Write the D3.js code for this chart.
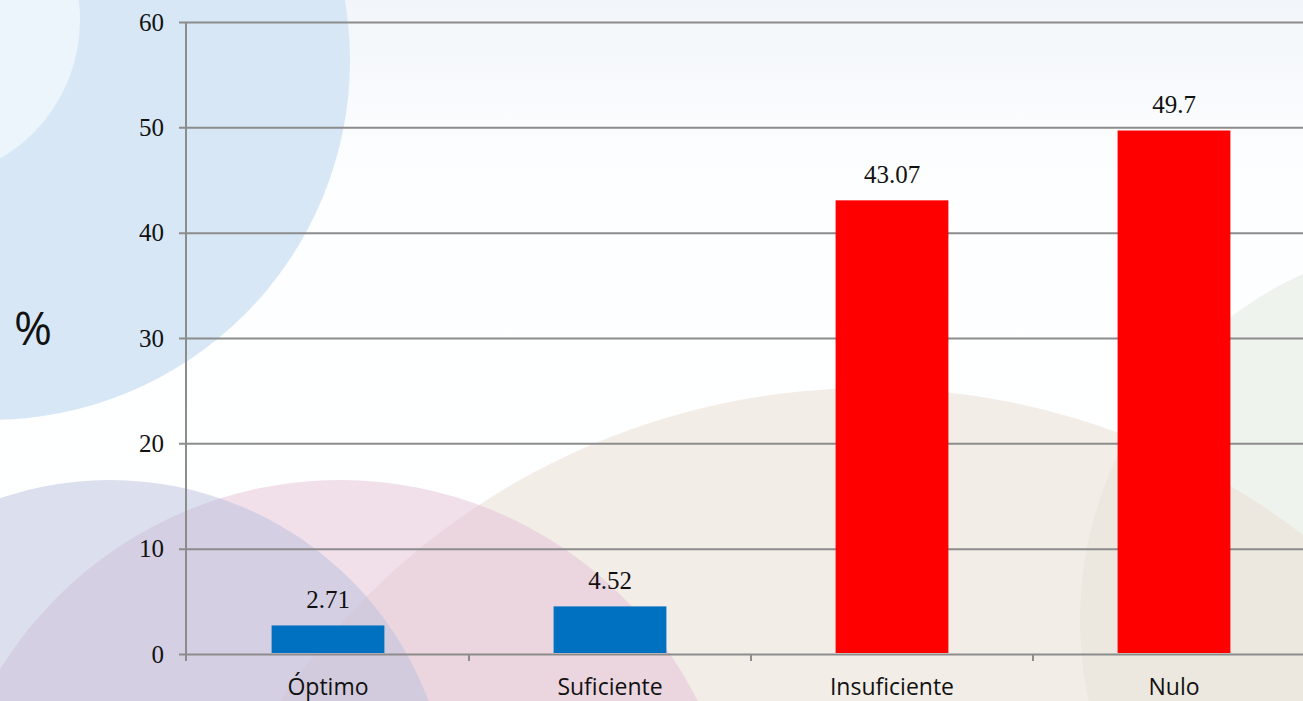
<!DOCTYPE html>
<head>
  <meta charset="utf-8">
  <script src="https://d3js.org/d3.v7.min.js"></script>
  <style>
    body { margin:0; overflow:hidden; background:#fff; }
  </style>
</head>
<body>
<script>
  // chart data
  var categories = ['Óptimo', 'Suficiente', 'Insuficiente', 'Nulo'];
  var values = [2.71, 4.52, 43.07, 49.7];
  var barColors = ['#0070c0', '#0070c0', '#ff0000', '#ff0000'];
  var yTicks = [0, 10, 20, 30, 40, 50, 60];

  var width = 1303, height = 701;

  var svg = d3.select('body').append('svg')
    .attr('width', width)
    .attr('height', height);

  // soft slide background
  var defs = svg.append('defs');
  var bg = defs.append('linearGradient').attr('id', 'bg')
    .attr('x1', 0).attr('y1', 0).attr('x2', 0).attr('y2', 1);
  bg.append('stop').attr('offset', '0').attr('stop-color', '#f2f6fa');
  bg.append('stop').attr('offset', '0.25').attr('stop-color', '#fdfeff');
  bg.append('stop').attr('offset', '1').attr('stop-color', '#ffffff');
  svg.append('rect').attr('width', width).attr('height', height).attr('fill', 'url(#bg)');

  var blobs = svg.append('g');
  blobs.append('circle').attr('cx', 1460).attr('cy', 620).attr('r', 380)
    .attr('fill', '#e4ebe2').attr('opacity', 0.6);
  blobs.append('circle').attr('cx', 870).attr('cy', 1100).attr('r', 712)
    .attr('fill', '#eadfd6').attr('opacity', 0.55);
  blobs.append('circle').attr('cx', -10).attr('cy', 60).attr('r', 360)
    .attr('fill', '#d7e7f5');
  blobs.append('circle').attr('cx', -80).attr('cy', 20).attr('r', 160)
    .attr('fill', '#edf5fc');
  blobs.append('circle').attr('cx', 340).attr('cy', 880).attr('r', 400)
    .attr('fill', '#e3bfd6').attr('opacity', 0.5);
  blobs.append('circle').attr('cx', 110).attr('cy', 820).attr('r', 340)
    .attr('fill', '#b9c0dc').attr('opacity', 0.5);

  // scales
  var x = d3.scaleBand()
    .domain(categories)
    .range([187, 1315])
    .paddingInner(0.6)
    .paddingOuter(0.3);

  var y = d3.scaleLinear()
    .domain([0, 60])
    .range([654, 22]);

  var grid = '#8c8c8c';
  var serif = '"Liberation Serif", "Times New Roman", serif';
  var sans = '"Open Sans", "Noto Sans", sans-serif';

  // gridlines + y ticks
  svg.append('g')
    .attr('transform', 'translate(186,0)')
    .call(d3.axisLeft(y).tickValues(yTicks).tickSize(-(width - 186)).tickSizeOuter(0))
    .call(function(g) {
      g.select('.domain').remove();
      g.selectAll('.tick line').attr('stroke', grid).attr('stroke-width', 2).attr('x1', -7);
      g.selectAll('.tick text')
        .attr('x', -22)
        .style('font-family', serif)
        .style('font-size', '25px')
        .attr('fill', '#111');
    });

  // y axis line
  svg.append('line')
    .attr('x1', 186).attr('x2', 186)
    .attr('y1', y(60)).attr('y2', y(0) + 7)
    .attr('stroke', grid).attr('stroke-width', 2);

  // category separator ticks
  var gap = x.step() * x.paddingInner() / 2;
  svg.selectAll('.sep')
    .data(categories.slice(1))
    .enter().append('line')
    .attr('x1', d => x(d) - gap).attr('x2', d => x(d) - gap)
    .attr('y1', y(0)).attr('y2', y(0) + 7)
    .attr('stroke', grid).attr('stroke-width', 2);

  // bars
  svg.selectAll('.bar')
    .data(values)
    .enter().append('rect')
    .attr('x', (d, i) => x(categories[i]))
    .attr('width', x.bandwidth())
    .attr('y', d => y(d))
    .attr('height', d => y(0) - y(d) - 1)
    .attr('fill', (d, i) => barColors[i]);

  // value labels
  svg.selectAll('.val')
    .data(values)
    .enter().append('text')
    .attr('x', (d, i) => x(categories[i]) + x.bandwidth() / 2)
    .attr('y', d => y(d) - 17)
    .attr('text-anchor', 'middle')
    .style('font-family', serif)
    .style('font-size', '25px')
    .attr('fill', '#111')
    .text(d => d);

  // category labels
  svg.selectAll('.cat')
    .data(categories)
    .enter().append('text')
    .attr('x', d => x(d) + x.bandwidth() / 2)
    .attr('y', 695)
    .attr('text-anchor', 'middle')
    .style('font-family', sans)
    .style('font-size', '23px')
    .attr('fill', '#111')
    .text(d => d);

  // y title
  svg.append('text')
    .attr('x', 33).attr('y', 345)
    .attr('text-anchor', 'middle')
    .style('font-family', sans)
    .style('font-size', '46px')
    .attr('fill', '#111')
    .text('%');
</script>
</body>
